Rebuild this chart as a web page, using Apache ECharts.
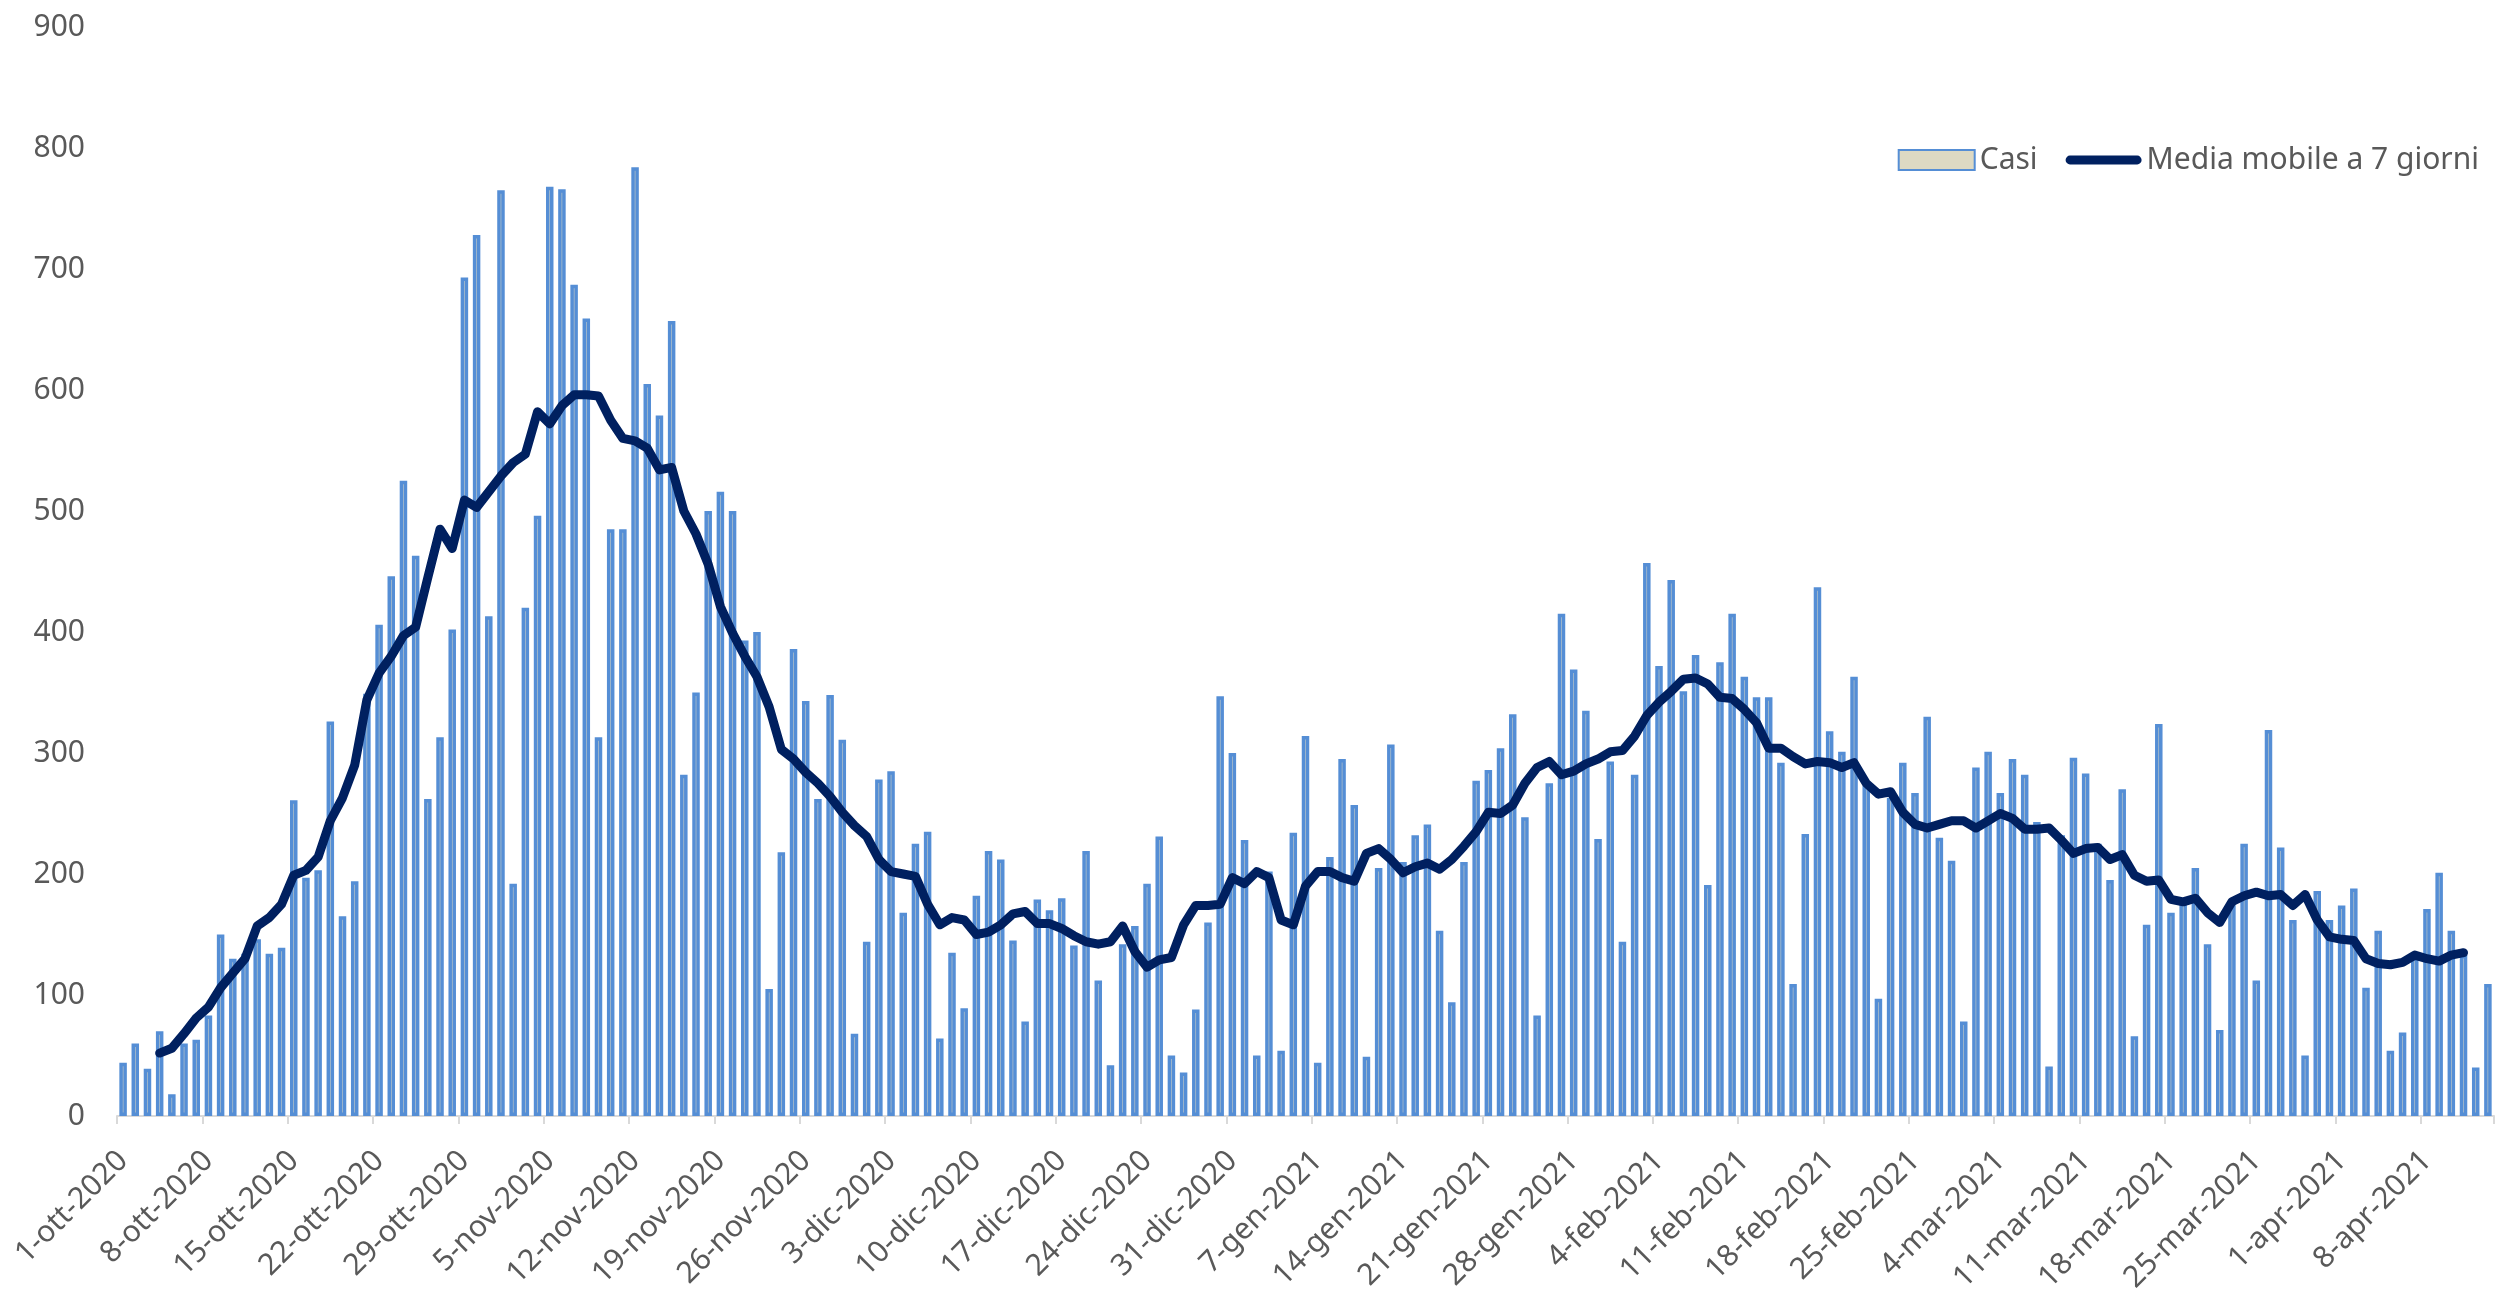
<!DOCTYPE html>
<html>
<head>
<meta charset="utf-8">
<title>Casi giornalieri e media mobile</title>
<script src="https://cdn.jsdelivr.net/npm/echarts@6/dist/echarts.min.js"></script>
<style>
  html, body { margin: 0; padding: 0; background: #fff; }
  #chart { width: 2496px; height: 1305px; }
</style>
</head>
<body>
<div id="chart"></div>
<script>
// casi giornalieri a partire dal 1-ott-2020
const startDate = [2020, 9, 1]
const monthNames = ['gen', 'feb', 'mar', 'apr', 'mag', 'giu', 'lug', 'ago', 'set', 'ott', 'nov', 'dic']

const casi = [
  44, 60, 39, 70, 18, 60, 63, 83, 150, 130,
  134, 146, 134, 139, 261, 197, 203, 326, 165, 194,
  349, 406, 446, 525, 463, 262, 313, 402, 693, 728,
  413, 765, 192, 420, 496, 768, 766, 687, 659, 313,
  485, 485, 784, 605, 579, 657, 282, 350, 500, 516,
  500, 393, 400, 105, 218, 386, 343, 262, 348, 311,
  68, 144, 278, 285, 168, 225, 235, 64, 135, 89,
  182, 219, 212, 145, 78, 179, 170, 180, 141, 219,
  112, 42, 142, 157, 192, 231, 50, 36, 88, 160,
  347, 300, 228, 50, 202, 54, 234, 314, 44, 214,
  295, 257, 49, 205, 307, 210, 232, 241, 153, 94,
  210, 277, 286, 304, 332, 247, 83, 275, 415, 369,
  335, 229, 293, 144, 282, 457, 372, 443, 351, 381,
  191, 375, 415, 363, 346, 346, 292, 109, 233, 437,
  318, 301, 363, 273, 97, 263, 292, 267, 330, 230,
  211, 78, 288, 301, 267, 295, 282, 243, 41, 232,
  296, 283, 225, 195, 270, 66, 158, 324, 168, 180,
  205, 142, 71, 177, 225, 112, 319, 222, 162, 50,
  186, 162, 174, 188, 106, 153, 54, 69, 131, 171,
  201, 153, 133, 40, 109
]

// media mobile a 7 giorni, primo valore sul 4° giorno (indice 3)
const maStart = 3
const mediaMobile = [
  52, 56, 68, 81, 90, 106, 118,
  130, 157, 164, 175, 199, 203, 214, 244, 263, 290,
  344, 366, 380, 397, 404, 445, 485, 469, 509, 503,
  516, 529, 540, 547, 582, 572, 587, 596, 596, 595,
  575, 560, 558, 552, 534, 536, 500, 481, 456, 421,
  399, 380, 363, 338, 303, 295, 284, 275, 264, 251,
  240, 231, 212, 202, 200, 198, 175, 158, 164, 162,
  150, 152, 158, 167, 169, 159, 159, 155, 149, 144,
  142, 144, 157, 136, 123, 129, 131, 158, 174, 174,
  175, 197, 192, 202, 197, 162, 158, 190, 202, 202,
  197, 194, 217, 221, 212, 201, 206, 209, 204, 212,
  223, 235, 251, 250, 257, 275, 288, 293, 282, 285,
  291, 295, 301, 302, 314, 331, 342, 351, 361, 362,
  357, 346, 345, 336, 325, 304, 304, 297, 291, 293,
  292, 288, 292, 275, 266, 268, 251, 241, 238, 241,
  244, 244, 238, 244, 250, 246, 237, 237, 238, 228,
  217, 221, 222, 212, 216, 199, 194, 195, 179, 177,
  180, 168, 160, 177, 182, 185, 182, 183, 174, 183,
  162, 148, 146, 145, 130, 126, 125, 127, 133, 130,
  128, 133, 135
]

const yMin = 0
const yMax = 900
const yStep = 100

// etichette tipo "1-ott-2020"
const categories = casi.map((_, i) => {
  const d = new Date(Date.UTC(startDate[0], startDate[1], startDate[2] + i))
  return d.getUTCDate() + '-' + monthNames[d.getUTCMonth()] + '-' + d.getUTCFullYear()
})
const mediaData = casi.map((_, i) => {
  const k = i - maStart
  return k >= 0 && k < mediaMobile.length ? mediaMobile[k] : null
})

const font = '"Noto Sans", "Open Sans", sans-serif'
const grey = '#595959'
const navy = '#002060'

const chart = echarts.init(document.getElementById('chart'), null, {renderer: 'canvas'})
chart.setOption({
  animation: false,
  backgroundColor: '#ffffff',
  textStyle: {fontFamily: font},
  grid: {
    left: 117,
    right: 2,
    top: 27,
    bottom: 189,
    containLabel: false,
    outerBoundsMode: 'none'
  },
  legend: {
    right: 12,
    top: 140,
    itemWidth: 76,
    itemHeight: 20,
    itemGap: 28,
    symbolKeepAspect: true,
    textStyle: {fontSize: 30, color: grey, fontFamily: font},
    data: [
      {name: 'Casi', icon: 'rect'},
      // linea spessa con estremi arrotondati, come nella legenda originale
      {name: 'Media mobile a 7 giorni', icon: 'path://M4.5,0 L73.5,0 A4.5,4.5 0 0 1 73.5,9 L4.5,9 A4.5,4.5 0 0 1 4.5,0 Z'}
    ]
  },
  xAxis: {
    type: 'category',
    data: categories,
    boundaryGap: true,
    axisLine: {show: true, lineStyle: {color: '#D9D9D9', width: 2}},
    axisTick: {show: true, interval: 6, length: 8, lineStyle: {color: '#D9D9D9', width: 2}},
    axisLabel: {
      interval: 6,
      rotate: 45,
      margin: 40,
      fontSize: 30,
      color: grey,
      fontFamily: font
    },
    splitLine: {show: false}
  },
  yAxis: {
    type: 'value',
    min: yMin,
    max: yMax,
    interval: yStep,
    axisLine: {show: false},
    axisTick: {show: false},
    splitLine: {show: false},
    axisLabel: {margin: 32, fontSize: 30, color: grey, fontFamily: font}
  },
  series: [
    {
      name: 'Casi',
      type: 'bar',
      data: casi,
      barWidth: 7.5,
      itemStyle: {color: '#DDD9C3', borderColor: '#558ED5', borderWidth: 3.5}
    },
    {
      name: 'Media mobile a 7 giorni',
      type: 'line',
      data: mediaData,
      symbol: 'none',
      connectNulls: false,
      itemStyle: {color: navy},
      lineStyle: {color: navy, width: 9, cap: 'round', join: 'round'}
    }
  ]
})
</script>
</body>
</html>
